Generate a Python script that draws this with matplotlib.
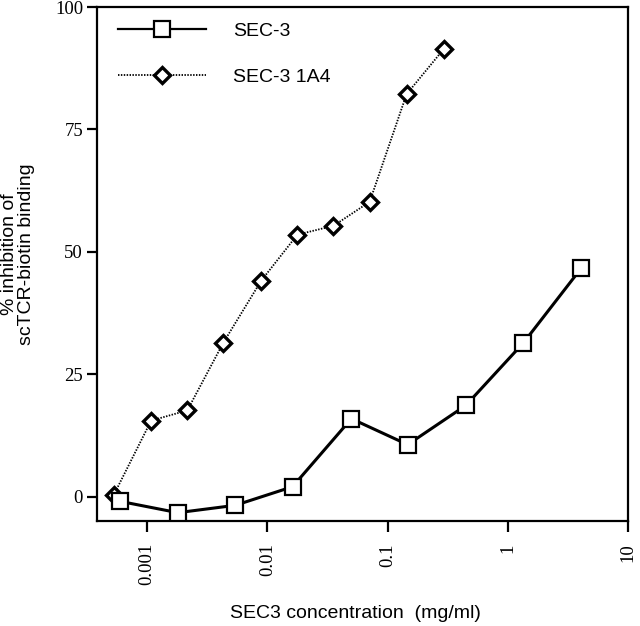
"""Inhibition of scTCR-biotin binding by SEC-3 and SEC-3 1A4."""

import matplotlib

matplotlib.use("Agg")
import matplotlib.pyplot as plt
from matplotlib.ticker import FixedLocator, FixedFormatter, NullLocator

OUTPUT_PATH = "out.png"

# SEC-3 (squares, solid line)
sec3_conc = [0.0006, 0.0018, 0.0054, 0.0162, 0.050, 0.147, 0.447, 1.35, 4.1]
sec3_inhib = [-1.0, -3.3, -1.8, 2.0, 15.9, 10.6, 18.6, 31.4, 46.7]

# SEC-3 1A4 (diamonds, dotted line)
a4_conc = [0.00053, 0.00108, 0.00216, 0.0043, 0.0089, 0.0178, 0.0355, 0.071, 0.144, 0.293]
a4_inhib = [0.4, 15.5, 17.6, 31.4, 44.1, 53.5, 55.3, 60.2, 82.2, 91.4]

x_ticks = [0.001, 0.01, 0.1, 1, 10]
x_tick_labels = ["0.001", "0.01", "0.1", "1", "10"]
y_ticks = [0, 25, 50, 75, 100]
y_tick_labels = ["0", "25", "50", "75", "100"]

SANS = "Liberation Sans"
SERIF = "Liberation Serif"

fig = plt.figure(figsize=(6.4, 6.26), dpi=100)
ax = fig.add_axes([97 / 640, 1 - 521 / 626, 531 / 640, 514 / 626])

ax.plot(
    sec3_conc,
    sec3_inhib,
    color="black",
    linewidth=2.2,
    marker="s",
    markersize=12,
    markerfacecolor="white",
    markeredgecolor="black",
    markeredgewidth=1.6,
    label="SEC-3",
    zorder=3,
)
ax.plot(
    a4_conc,
    a4_inhib,
    color="black",
    linewidth=1.3,
    linestyle=(0, (0.8, 0.8)),
    marker="D",
    markersize=8,
    markerfacecolor="white",
    markeredgecolor="black",
    markeredgewidth=2.4,
    label="SEC-3 1A4",
    zorder=2,
)

ax.set_xscale("log")
ax.set_xlim(0.000383, 10)
ax.set_ylim(-5, 100)

ax.xaxis.set_major_locator(FixedLocator(x_ticks))
ax.xaxis.set_major_formatter(FixedFormatter(x_tick_labels))
ax.xaxis.set_minor_locator(NullLocator())
ax.yaxis.set_major_locator(FixedLocator(y_ticks))
ax.yaxis.set_major_formatter(FixedFormatter(y_tick_labels))

ax.tick_params(axis="both", direction="out", width=1.6, labelsize=13.5, colors="black")
ax.tick_params(axis="x", length=8, pad=8, labelrotation=90)
ax.tick_params(axis="y", length=7, pad=3)
for label in ax.get_xticklabels() + ax.get_yticklabels():
    label.set_fontfamily(SERIF)

for spine in ax.spines.values():
    spine.set_linewidth(1.6)

legend = ax.legend(
    loc="upper left",
    bbox_to_anchor=(0.0395, 0.97),
    frameon=False,
    borderaxespad=0,
    borderpad=0,
    handlelength=4.55,
    handletextpad=1.35,
    labelspacing=1.45,
    numpoints=1,
    prop={"family": SANS, "size": 14},
)
legend.get_lines()[0].set_linewidth(1.6)

fig.text(
    18 / 640,
    1 - 254 / 626,
    "% inhibition of\nscTCR-biotin binding",
    rotation=90,
    ha="center",
    va="center",
    multialignment="center",
    family=SANS,
    fontsize=14,
    linespacing=1.0,
)
fig.text(
    355 / 640,
    1 - 613 / 626,
    "SEC3 concentration  (mg/ml)",
    ha="center",
    va="center",
    family=SANS,
    fontsize=14,
)

fig.savefig(OUTPUT_PATH, dpi=100, facecolor="white")
plt.close(fig)
